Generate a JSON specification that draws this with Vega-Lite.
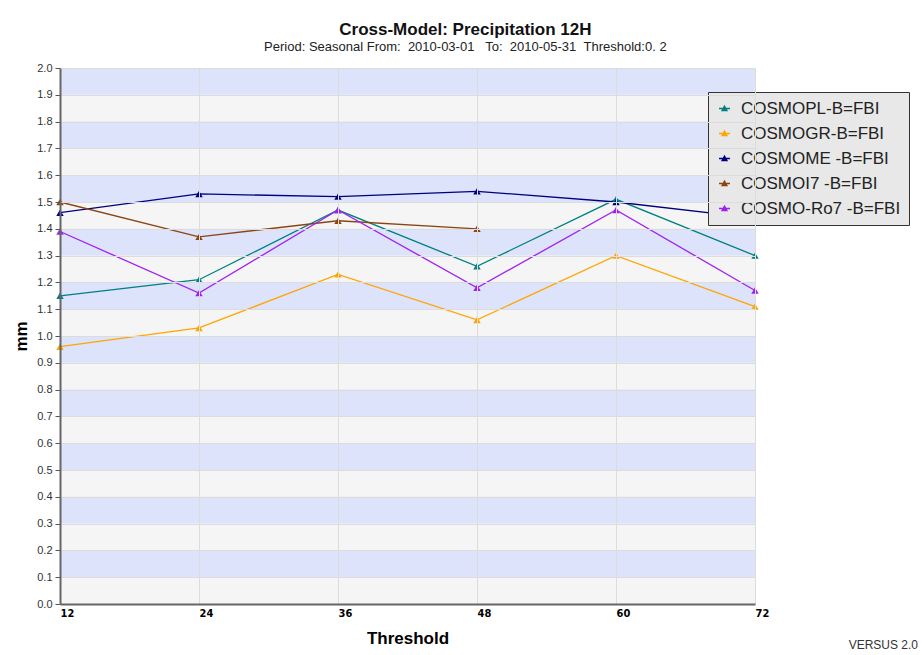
{
  "$schema": "https://vega.github.io/schema/vega-lite/v6.json",
  "width": 695,
  "height": 536,
  "autosize": {"type": "none"},
  "padding": {"left": 60, "top": 68, "right": 168, "bottom": 51},
  "background": "#ffffff",
  "config": {
    "font": "Liberation Sans",
    "view": {"fill": "#f5f5f5", "stroke": null},
    "axis": {"gridColor": "#dcdcdc", "gridWidth": 1}
  },
  "title": {
    "text": "Cross-Model: Precipitation 12H",
    "subtitle": "Period: Seasonal From:\u00a0\u00a02010-03-01\u00a0\u00a0\u00a0To:\u00a0\u00a02010-05-31\u00a0\u00a0Threshold:0.\u00a02",
    "anchor": "middle",
    "frame": "bounds",
    "fontSize": 17,
    "fontWeight": "bold",
    "color": "#111",
    "subtitleFontSize": 13,
    "subtitleColor": "#222",
    "subtitlePadding": 2,
    "offset": 7
  },
  "resolve": {"axis": {"y": "independent", "x": "independent"}, "scale": {"y": "shared", "x": "shared"}},
  "datasets": {
    "bands": [
      {"lo": 0.1, "hi": 0.2}, {"lo": 0.3, "hi": 0.4}, {"lo": 0.5, "hi": 0.6},
      {"lo": 0.7, "hi": 0.8}, {"lo": 0.9, "hi": 1.0}, {"lo": 1.1, "hi": 1.2},
      {"lo": 1.3, "hi": 1.4}, {"lo": 1.5, "hi": 1.6}, {"lo": 1.7, "hi": 1.8},
      {"lo": 1.9, "hi": 2.0}
    ],
    "series": [
      {"model": "COSMOPL-B=FBI", "t": 12, "v": 1.15},
      {"model": "COSMOPL-B=FBI", "t": 24, "v": 1.21},
      {"model": "COSMOPL-B=FBI", "t": 36, "v": 1.47},
      {"model": "COSMOPL-B=FBI", "t": 48, "v": 1.26},
      {"model": "COSMOPL-B=FBI", "t": 60, "v": 1.51},
      {"model": "COSMOPL-B=FBI", "t": 72, "v": 1.30},
      {"model": "COSMOGR-B=FBI", "t": 12, "v": 0.96},
      {"model": "COSMOGR-B=FBI", "t": 24, "v": 1.03},
      {"model": "COSMOGR-B=FBI", "t": 36, "v": 1.23},
      {"model": "COSMOGR-B=FBI", "t": 48, "v": 1.06},
      {"model": "COSMOGR-B=FBI", "t": 60, "v": 1.30},
      {"model": "COSMOGR-B=FBI", "t": 72, "v": 1.11},
      {"model": "COSMOME -B=FBI", "t": 12, "v": 1.46},
      {"model": "COSMOME -B=FBI", "t": 24, "v": 1.53},
      {"model": "COSMOME -B=FBI", "t": 36, "v": 1.52},
      {"model": "COSMOME -B=FBI", "t": 48, "v": 1.54},
      {"model": "COSMOME -B=FBI", "t": 60, "v": 1.50},
      {"model": "COSMOME -B=FBI", "t": 72, "v": 1.44},
      {"model": "COSMOI7 -B=FBI", "t": 12, "v": 1.50},
      {"model": "COSMOI7 -B=FBI", "t": 24, "v": 1.37},
      {"model": "COSMOI7 -B=FBI", "t": 36, "v": 1.43},
      {"model": "COSMOI7 -B=FBI", "t": 48, "v": 1.40},
      {"model": "COSMO-Ro7 -B=FBI", "t": 12, "v": 1.39},
      {"model": "COSMO-Ro7 -B=FBI", "t": 24, "v": 1.16},
      {"model": "COSMO-Ro7 -B=FBI", "t": 36, "v": 1.47},
      {"model": "COSMO-Ro7 -B=FBI", "t": 48, "v": 1.18},
      {"model": "COSMO-Ro7 -B=FBI", "t": 60, "v": 1.47},
      {"model": "COSMO-Ro7 -B=FBI", "t": 72, "v": 1.17}
    ],
    "footer": [{"label": "VERSUS 2.0", "t": 72, "v": 0}]
  },
  "layer": [
    {
      "data": {"name": "bands"},
      "mark": {"type": "rect", "color": "#dde3fb"},
      "encoding": {
        "y": {"field": "lo", "type": "quantitative", "scale": {"domain": [0, 2], "nice": false}, "axis": null},
        "y2": {"field": "hi"}
      }
    },
    {
      "data": {"name": "series"},
      "mark": {"type": "line", "strokeWidth": 1.3},
      "encoding": {
        "x": {
          "field": "t", "type": "quantitative",
          "scale": {"domain": [12, 72], "nice": false, "zero": false},
          "axis": {
            "values": [12, 24, 36, 48, 60, 72],
            "title": "Threshold",
            "titleFontSize": 17,
            "titleFontWeight": "bold",
            "titleColor": "#000",
            "titlePadding": 12,
            "labelAlign": "left",
            "labelFontWeight": "bold",
            "labelFontSize": 11,
            "labelFont": "DejaVu Sans Condensed, Liberation Sans",
            "labelColor": "#000",
            "labelPadding": 3,
            "ticks": false,
            "domainColor": "#666",
            "domainWidth": 2,
            "grid": true,
            "zindex": 1
          }
        },
        "y": {
          "field": "v", "type": "quantitative",
          "axis": {
            "values": [0, 0.1, 0.2, 0.3, 0.4, 0.5, 0.6, 0.7, 0.8, 0.9, 1.0, 1.1, 1.2, 1.3, 1.4, 1.5, 1.6, 1.7, 1.8, 1.9, 2.0],
            "format": ".1f",
            "labelOverlap": false,
            "title": "mm",
            "titleFontSize": 17,
            "titleFontWeight": "bold",
            "titleColor": "#000",
            "titlePadding": 6,
            "labelFontSize": 11,
            "labelColor": "#333",
            "labelPadding": 3,
            "ticks": true,
            "tickColor": "#555",
            "tickSize": 5,
            "domainColor": "#666",
            "domainWidth": 2,
            "grid": true,
            "zindex": 1
          }
        },
        "color": {
          "field": "model", "type": "nominal",
          "scale": {
            "domain": ["COSMOPL-B=FBI", "COSMOGR-B=FBI", "COSMOME -B=FBI", "COSMOI7 -B=FBI", "COSMO-Ro7 -B=FBI"],
            "range": ["#008080", "#ffa500", "#000080", "#8b4513", "#a020f0"]
          },
          "legend": {
            "title": null,
            "orient": "none",
            "legendX": 648,
            "legendY": 24,
            "fillColor": "#e8e8e8",
            "strokeColor": "#333",
            "padding": 8,
            "labelFontSize": 17,
            "labelColor": "#222",
            "labelLimit": 300,
            "labelOffset": 8,
            "rowPadding": 7,
            "symbolType": "M-1,0H1M-0.45,0.38L0,-0.45L0.45,0.38Z",
            "symbolSize": 121,
            "symbolStrokeWidth": 1.3
          }
        }
      }
    },
    {
      "data": {"name": "series"},
      "mark": {"type": "point", "shape": "triangle-up", "filled": true, "size": 55, "opacity": 1},
      "encoding": {
        "x": {"field": "t", "type": "quantitative", "axis": null},
        "y": {"field": "v", "type": "quantitative", "axis": null},
        "color": {"field": "model", "type": "nominal", "legend": null}
      }
    },
    {
      "data": {"name": "footer"},
      "mark": {"type": "text", "align": "right", "baseline": "middle", "dx": 163, "dy": 41, "fontSize": 12, "color": "#333"},
      "encoding": {
        "x": {"field": "t", "type": "quantitative", "axis": null},
        "y": {"field": "v", "type": "quantitative", "axis": null},
        "text": {"field": "label"}
      }
    }
  ]
}
